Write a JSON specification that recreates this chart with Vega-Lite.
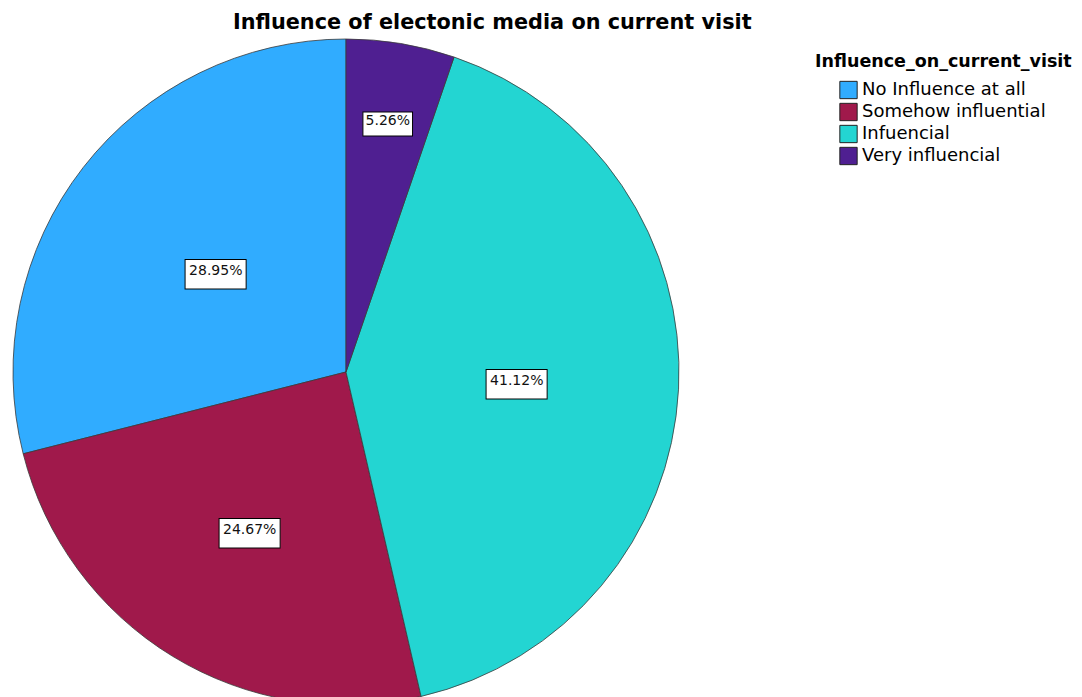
{
  "$schema": "https://vega.github.io/schema/vega-lite/v6.json",
  "width": 692,
  "height": 664,
  "padding": {"left": 0, "top": 11, "right": 0, "bottom": 0},
  "autosize": {"type": "pad"},
  "background": "white",
  "config": {"view": {"stroke": null}},
  "title": {
    "text": "Influence of electonic media on current visit",
    "font": "DejaVu Sans",
    "fontSize": 20.8,
    "fontWeight": "bold",
    "color": "#000000",
    "anchor": "start",
    "dx": 233,
    "offset": 4
  },
  "data": {
    "values": [
      {"category": "No Influence at all", "share": 0.2895, "rank": 4},
      {"category": "Somehow influential", "share": 0.2467, "rank": 3},
      {"category": "Infuencial", "share": 0.4112, "rank": 2},
      {"category": "Very influencial", "share": 0.0526, "rank": 1}
    ]
  },
  "encoding": {
    "theta": {"field": "share", "type": "quantitative", "stack": true},
    "order": {"field": "rank", "type": "quantitative"}
  },
  "layer": [
    {
      "mark": {"type": "arc", "outerRadius": 333, "stroke": "#3a3a3a", "strokeWidth": 0.8},
      "encoding": {
        "color": {
          "field": "category",
          "type": "nominal",
          "scale": {
            "domain": ["No Influence at all", "Somehow influential", "Infuencial", "Very influencial"],
            "range": ["#30acff", "#a0194b", "#23d5d2", "#4f1f91"]
          },
          "legend": {
            "title": "Influence_on_current_visit",
            "orient": "none",
            "legendX": 815,
            "legendY": 13,
            "titleFont": "DejaVu Sans",
            "titleFontSize": 17.5,
            "titleFontWeight": "bold",
            "titleColor": "#000000",
            "titlePadding": 10,
            "titleLimit": 400,
            "labelFont": "DejaVu Sans",
            "labelFontSize": 18,
            "labelColor": "#000000",
            "labelLimit": 400,
            "labelOffset": 4,
            "symbolType": "square",
            "symbolSize": 300,
            "symbolStrokeColor": "#222222",
            "symbolStrokeWidth": 1,
            "symbolOpacity": 1,
            "symbolOffset": 24,
            "rowPadding": -1
          }
        }
      }
    },
    {
      "mark": {"type": "text", "radius": 165, "text": "▬", "font": "DejaVu Sans", "fontSize": 80, "fill": "white", "stroke": "black", "strokeWidth": 1},
      "encoding": {"opacity": {"condition": {"test": "datum.category == 'No Influence at all'", "value": 1}, "value": 0}}
    },
    {
      "mark": {"type": "text", "radius": 165, "font": "DejaVu Sans", "fontSize": 14, "fill": "#111111"},
      "encoding": {
        "text": {"field": "share", "type": "quantitative", "format": ".2%"},
        "opacity": {"condition": {"test": "datum.category == 'No Influence at all'", "value": 1}, "value": 0}
      }
    },
    {
      "mark": {"type": "text", "radius": 185, "text": "▬", "font": "DejaVu Sans", "fontSize": 80, "fill": "white", "stroke": "black", "strokeWidth": 1},
      "encoding": {"opacity": {"condition": {"test": "datum.category == 'Somehow influential'", "value": 1}, "value": 0}}
    },
    {
      "mark": {"type": "text", "radius": 185, "font": "DejaVu Sans", "fontSize": 14, "fill": "#111111"},
      "encoding": {
        "text": {"field": "share", "type": "quantitative", "format": ".2%"},
        "opacity": {"condition": {"test": "datum.category == 'Somehow influential'", "value": 1}, "value": 0}
      }
    },
    {
      "mark": {"type": "text", "radius": 171, "text": "▬", "font": "DejaVu Sans", "fontSize": 80, "fill": "white", "stroke": "black", "strokeWidth": 1},
      "encoding": {"opacity": {"condition": {"test": "datum.category == 'Infuencial'", "value": 1}, "value": 0}}
    },
    {
      "mark": {"type": "text", "radius": 171, "font": "DejaVu Sans", "fontSize": 14, "fill": "#111111"},
      "encoding": {
        "text": {"field": "share", "type": "quantitative", "format": ".2%"},
        "opacity": {"condition": {"test": "datum.category == 'Infuencial'", "value": 1}, "value": 0}
      }
    },
    {
      "mark": {"type": "text", "radius": 254, "text": "▬", "font": "DejaVu Sans", "fontSize": 65, "fill": "white", "stroke": "black", "strokeWidth": 1},
      "encoding": {"opacity": {"condition": {"test": "datum.category == 'Very influencial'", "value": 1}, "value": 0}}
    },
    {
      "mark": {"type": "text", "radius": 254, "font": "DejaVu Sans", "fontSize": 14, "fill": "#111111"},
      "encoding": {
        "text": {"field": "share", "type": "quantitative", "format": ".2%"},
        "opacity": {"condition": {"test": "datum.category == 'Very influencial'", "value": 1}, "value": 0}
      }
    }
  ]
}
